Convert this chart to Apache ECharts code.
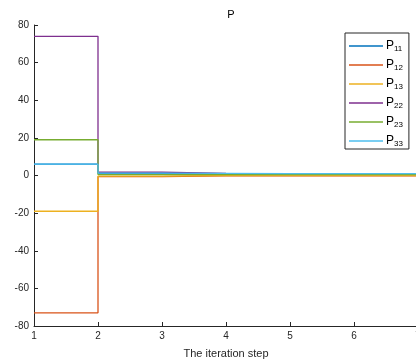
<!DOCTYPE html>
<html>
<head>
<meta charset="utf-8">
<script src="https://cdn.jsdelivr.net/npm/echarts@6/dist/echarts.min.js"></script>
<style>
    html, body { margin: 0; padding: 0; background: #fff; }
    #chart { width: 416px; height: 364px; }
</style>
</head>
<body>
<div id="chart"></div>
<script>
// iteration steps and the P entries at each step
var steps = [1, 2, 3, 4, 5, 6, 7];
var p11 = [6, 1.2, 1, 1, 1, 1, 1];
var p12 = [-73, -0.6, -0.2, -0.2, -0.2, -0.2, -0.2];
var p13 = [-19, -0.3, 0, 0, 0, 0, 0];
var p22 = [74, 1.8, 1.1, 1, 1, 1, 1];
var p23 = [19, 0.5, 0.5, 0.5, 0.5, 0.5, 0.5];
var p33 = [6, 1.3, 1.1, 1, 1, 1, 1];

var names = ['P11', 'P12', 'P13', 'P22', 'P23', 'P33'];
var colors = ['#0072BD', '#D95319', '#EDB120', '#7E2F8E', '#77AC30', '#4DBEEE'];
var allData = [p11, p12, p13, p22, p23, p33];

var axisColor = '#262626';

var myChart = echarts.init(document.getElementById('chart'));

var seriesArr = [];
for (var i = 0; i < names.length; i++) {
    seriesArr.push({
        name: names[i],
        type: 'line',
        step: 'end',
        symbol: 'none',
        data: steps.map(function(s, k) { return [s, allData[i][k]]; }),
        lineStyle: { width: 1.3, color: colors[i] },
        itemStyle: { color: colors[i] }
    });
}

var option = {
    animation: false,
    title: {
        text: 'P',
        left: 226,
        top: 4,
        textAlign: 'center',
        textStyle: { fontFamily: 'Liberation Sans', fontSize: 11, fontWeight: 'normal', color: '#000' }
    },
    legend: {
        orient: 'vertical',
        left: 345,
        top: 33,
        width: 63,
        padding: [5, 6, 1, 4],
        itemGap: 4,
        itemWidth: 34,
        itemHeight: 14,
        borderColor: '#262626',
        borderWidth: 1,
        borderRadius: 0,
        backgroundColor: '#fff',
        icon: 'path://M0,6 L34,6 L34,7.6 L0,7.6 Z',
        data: names,
        formatter: function(n) {
            return '{m|P}{s|' + n.slice(1) + '}';
        },
        textStyle: {
            padding: [0, 0, 0, -2],
            rich: {
                m: { fontFamily: 'Liberation Sans', fontSize: 12, color: '#000', lineHeight: 14 },
                s: { fontFamily: 'Liberation Sans', fontSize: 8, color: '#000', verticalAlign: 'bottom', padding: [7, 0, 0, 0], lineHeight: 14 }
            }
        }
    },
    grid: { left: 34, top: 25, width: 384, height: 301, outerBoundsMode: 'none' },
    xAxis: {
        type: 'value',
        min: 1,
        max: 7,
        interval: 1,
        name: 'The iteration step',
        nameLocation: 'middle',
        nameGap: 22,
        nameTextStyle: { fontFamily: 'Liberation Sans', fontSize: 11, color: axisColor },
        axisLine: { onZero: false, lineStyle: { color: axisColor } },
        axisTick: { inside: true, length: 4, lineStyle: { color: axisColor } },
        axisLabel: {
            fontFamily: 'Liberation Sans', fontSize: 10, color: axisColor, margin: 5,
            hideOverlap: false, showMaxLabel: true, showMinLabel: true, alignMaxLabel: 'center'
        },
        splitLine: { show: false }
    },
    yAxis: {
        type: 'value',
        min: -80,
        max: 80,
        interval: 20,
        axisLine: { show: true, onZero: false, lineStyle: { color: axisColor } },
        axisTick: { show: true, inside: true, length: 4, lineStyle: { color: axisColor } },
        axisLabel: { fontFamily: 'Liberation Sans', fontSize: 10, color: axisColor, margin: 5 },
        splitLine: { show: false }
    },
    series: seriesArr
};

myChart.setOption(option);
</script>
</body>
</html>
